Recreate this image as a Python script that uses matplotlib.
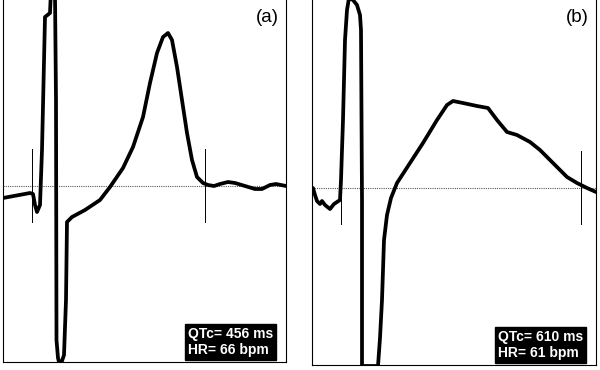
import numpy as np
import matplotlib
matplotlib.use('Agg')
import matplotlib.pyplot as plt

plt.rcParams['font.family'] = ['Liberation Sans', 'DejaVu Sans']

# ---------- panel (a) : time (samples) and amplitude (arb. units) ----------
t_a = [0, 27, 30, 32, 34, 37, 39, 42, 47, 48, 50, 52, 53, 53.5, 55, 56, 59, 61, 63, 64,
       66, 69, 82, 97, 107, 120, 130, 140, 147, 154, 160, 165, 169, 174, 179, 184,
       189, 194, 200, 205, 211, 217, 225, 232, 242, 252, 259, 267, 273, 283]
v_a = [-12, -7, -8, -19, -26, -19, 36, 169, 173, 196, 198, 191, 86, -154, -172, -176,
       -175, -169, -114, -36, -34, -31, -24, -14, -1, 18, 39, 69, 103, 133, 149, 153,
       146, 119, 86, 53, 26, 9, 3, 1, 0, 2, 4, 3, 0, -3, -3, 1, 2, 0]
marks_a = [29, 202]
label_a = '(a)'
info_a = ['QTc= 456 ms', 'HR= 66 bpm']

# ---------- panel (b) ----------
t_b = [1, 3, 5, 8, 10, 13, 18, 22, 28, 29, 31, 33, 35, 37, 41, 45, 48, 49, 50, 50,
       66, 68, 70, 72, 75, 79, 85, 98, 111, 125, 135, 141, 151, 165, 176, 185, 195,
       205, 218, 228, 241, 255, 265, 275, 284]
v_b = [0, -7, -13, -16, -13, -17, -21, -16, -12, 8, 68, 148, 178, 190, 188, 183, 173,
       158, -12, -178, -178, -150, -112, -52, -27, -10, 5, 25, 45, 68, 83, 87, 85, 82,
       80, 68, 56, 53, 46, 38, 25, 11, 5, 0, -4]
marks_b = [29, 269]
label_b = '(b)'
info_b = ['QTc= 610 ms', 'HR= 61 bpm']

fig = plt.figure(figsize=(6, 3.7), dpi=100)

panels = [
    # data, markers, texts, left px, width px, top value, bottom value, bottom px
    (t_a, v_a, marks_a, label_a, info_a, 3, 283, 186, -176, 362),
    (t_b, v_b, marks_b, label_b, info_b, 312, 284, 188, -177, 365),
]

for t, v, marks, label, info, left, width, ytop, ybot, bpx in panels:
    ax = fig.add_axes([left / 600, (370 - bpx) / 370, width / 600, bpx / 370])
    ax.set_xlim(0, width)
    ax.set_ylim(ybot, ytop)
    # isoelectric baseline
    ax.axhline(0, color='0.35', lw=0.8, ls=(0, (1, 1)))
    # Q onset / T end markers
    for m in marks:
        ax.plot([m, m], [-36, 37], color='black', lw=0.7)
    ax.plot(t, v, color='black', lw=2.7, solid_joinstyle='round', solid_capstyle='round')
    ax.text(0.975, 0.975, label, transform=ax.transAxes, ha='right', va='top',
            fontsize=13.5)
    ax.text(0.955, 0.014, '\n'.join(info), transform=ax.transAxes, ha='right',
            va='bottom', multialignment='left', color='white', fontsize=10,
            fontweight='bold', linespacing=1.2,
            bbox=dict(boxstyle='square,pad=0.2', facecolor='black', edgecolor='black'))
    ax.set_xticks([])
    ax.set_yticks([])
    ax.spines['top'].set_visible(False)
    for s in ['left', 'right', 'bottom']:
        ax.spines[s].set_linewidth(0.8)

fig.savefig('out.png', dpi=100)
